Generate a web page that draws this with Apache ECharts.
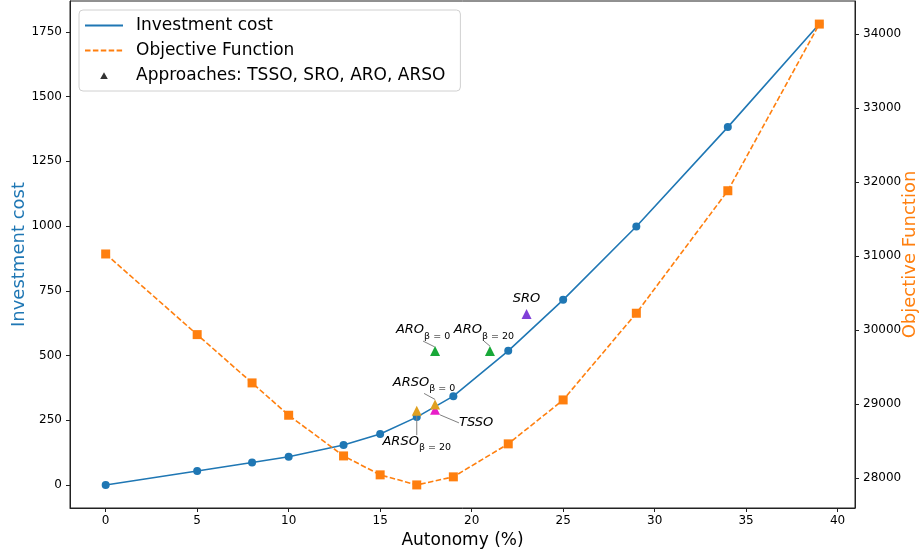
<!DOCTYPE html>
<html>
<head>
<meta charset="utf-8">
<script src="https://cdn.jsdelivr.net/npm/echarts@6/dist/echarts.min.js"></script>
<style>html,body{margin:0;padding:0;background:#fff}#c{width:920px;height:554px}</style>
</head>
<body>
<div id="c"></div>
<script>
// ---- data ----
const autonomy = [0, 5, 8, 10, 13, 15, 17, 19, 22, 25, 29, 34, 39];
const investmentCost = [0, 54, 87, 109, 154, 197, 262, 343, 518, 715, 998, 1382, 1780];
const objectiveFunction = [31031, 29941, 29288, 28851, 28301, 28045, 27909, 28018, 28464, 29058, 30230, 31886, 34139];

const approachNames = ['TSSO', 'SRO', 'ARO β=0', 'ARO β=20', 'ARSO β=0', 'ARSO β=20'];
const approachMain = ['TSSO', 'SRO', 'ARO', 'ARO', 'ARSO', 'ARSO'];
const approachSub = ['', '', 'β = 0', 'β = 20', 'β = 0', 'β = 20'];
const approachAutonomy = [18, 23, 18, 21, 18, 17];
const approachCost = [290, 660, 517, 517, 311, 287];

const xTicks = [0, 5, 10, 15, 20, 25, 30, 35, 40];
const leftTicks = [0, 250, 500, 750, 1000, 1250, 1500, 1750];
const rightTicks = [28000, 29000, 30000, 31000, 32000, 33000, 34000];

// ---- styles ----
const approachColors = ['#e81ec8', '#8040d8', '#18a838', '#18a838', '#e0a020', '#e0a020'];
const labelOffsets = [[41, 13], [0, -15], [-12, -21], [-6, -21], [-11, -22], [0, 31]];
const showLeader = [true, false, true, true, true, true];

const FONT = 'DejaVu Sans';
const tickLabel = { color: '#000', fontSize: 12, fontFamily: FONT, formatter: v => String(v) };

const approachSeries = approachNames.map((n, i) => ({
  type: 'scatter',
  name: n,
  yAxisIndex: 0,
  symbol: 'triangle',
  symbolSize: 10,
  itemStyle: { color: approachColors[i], opacity: 1 },
  data: [[approachAutonomy[i], approachCost[i]]],
  z: 5,
  label: {
    show: true,
    position: 'inside',
    formatter: approachSub[i] ? '{m|' + approachMain[i] + '}{s|' + approachSub[i] + '}' : '{m|' + approachMain[i] + '}',
    rich: {
      m: { fontSize: 13, fontStyle: 'italic', fontFamily: FONT, color: '#000', lineHeight: 16 },
      s: { fontSize: 9.5, fontFamily: FONT, color: '#000', verticalAlign: 'bottom', lineHeight: 10, padding: [0, 0, -3, 0] }
    }
  },
  labelLayout: { dx: labelOffsets[i][0], dy: labelOffsets[i][1] },
  labelLine: { show: showLeader[i], lineStyle: { color: '#808080', width: 1 } }
}));

const chart = echarts.init(document.getElementById('c'), null, { renderer: 'canvas' });
chart.setOption({
  animation: false,
  backgroundColor: '#fff',
  grid: { left: 70, right: 65, top: 1, bottom: 46, containLabel: false, outerBoundsMode: 'none',
          show: true, borderColor: '#222', borderWidth: 1, backgroundColor: 'transparent' },
  legend: {
    orient: 'vertical',
    left: 79, top: 10,
    padding: [7, 15, 7, 5],
    itemWidth: 38, itemHeight: 7, itemGap: 8,
    backgroundColor: 'rgba(255,255,255,0.8)',
    borderColor: '#d0d0d0', borderWidth: 1, borderRadius: 4,
    textStyle: { fontSize: 17, fontFamily: FONT, color: '#000', lineHeight: 17, padding: [0, 0, 0, 8] },
    data: [
      { name: 'Investment cost', itemStyle: { opacity: 0 } },
      { name: 'Objective Function', itemStyle: { opacity: 0 } },
      { name: 'Approaches: TSSO, SRO, ARO, ARSO',
        icon: 'path://M0,0L0.01,0L0.01,0.01Z M38,7L37.99,7L37.99,6.99Z M15.2,7L22.8,7L19,0.2Z' }
    ],
    selectedMode: false
  },
  xAxis: {
    type: 'value', min: -1.95, max: 40.95,
    name: 'Autonomy (%)', nameLocation: 'middle', nameGap: 24, nameMoveOverlap: false,
    nameTextStyle: { fontSize: 17, fontFamily: FONT, color: '#000' },
    axisLine: { show: true, onZero: false, lineStyle: { color: '#222' } },
    axisTick: { show: true, length: 4, customValues: xTicks, lineStyle: { color: '#222' } },
    axisLabel: Object.assign({ customValues: xTicks, margin: 7 }, tickLabel),
    splitLine: { show: false }
  },
  yAxis: [
    {
      type: 'value', min: -89, max: 1869, position: 'left',
      name: 'Investment cost', nameLocation: 'middle', nameGap: 42, nameRotate: 90, nameMoveOverlap: false,
      nameTextStyle: { fontSize: 18, fontFamily: FONT, color: '#1f77b4' },
      axisLine: { show: true, onZero: false, lineStyle: { color: '#222' } },
      axisTick: { show: true, length: 4, customValues: leftTicks, lineStyle: { color: '#222' } },
      axisLabel: Object.assign({ customValues: leftTicks, margin: 8 }, tickLabel),
      splitLine: { show: false }
    },
    {
      type: 'value', min: 27597, max: 34451, position: 'right',
      name: 'Objective Function', nameLocation: 'middle', nameGap: 46, nameRotate: 90, nameMoveOverlap: false,
      nameTextStyle: { fontSize: 18, fontFamily: FONT, color: '#ff7f0e' },
      axisLine: { show: true, onZero: false, lineStyle: { color: '#222' } },
      axisTick: { show: true, length: 4, customValues: rightTicks, lineStyle: { color: '#222' } },
      axisLabel: Object.assign({ customValues: rightTicks, margin: 8 }, tickLabel),
      splitLine: { show: false }
    }
  ],
  series: [
    {
      type: 'line', name: 'Investment cost', yAxisIndex: 0,
      data: autonomy.map((x, i) => [x, investmentCost[i]]),
      symbol: 'circle', symbolSize: 8, showSymbol: true,
      lineStyle: { color: '#1f77b4', width: 1.6 },
      itemStyle: { color: '#1f77b4' },
      z: 2
    },
    {
      type: 'line', name: 'Objective Function', yAxisIndex: 1,
      data: autonomy.map((x, i) => [x, objectiveFunction[i]]),
      symbol: 'rect', symbolSize: 9, showSymbol: true,
      lineStyle: { color: '#ff7f0e', width: 1.6, type: [5.5, 2.4] },
      itemStyle: { color: '#ff7f0e' },
      z: 3
    },
    {
      type: 'scatter', name: 'Approaches: TSSO, SRO, ARO, ARSO', yAxisIndex: 0,
      symbol: 'triangle', itemStyle: { color: '#000' }, data: []
    }
  ].concat(approachSeries)
});
</script>
</body>
</html>
